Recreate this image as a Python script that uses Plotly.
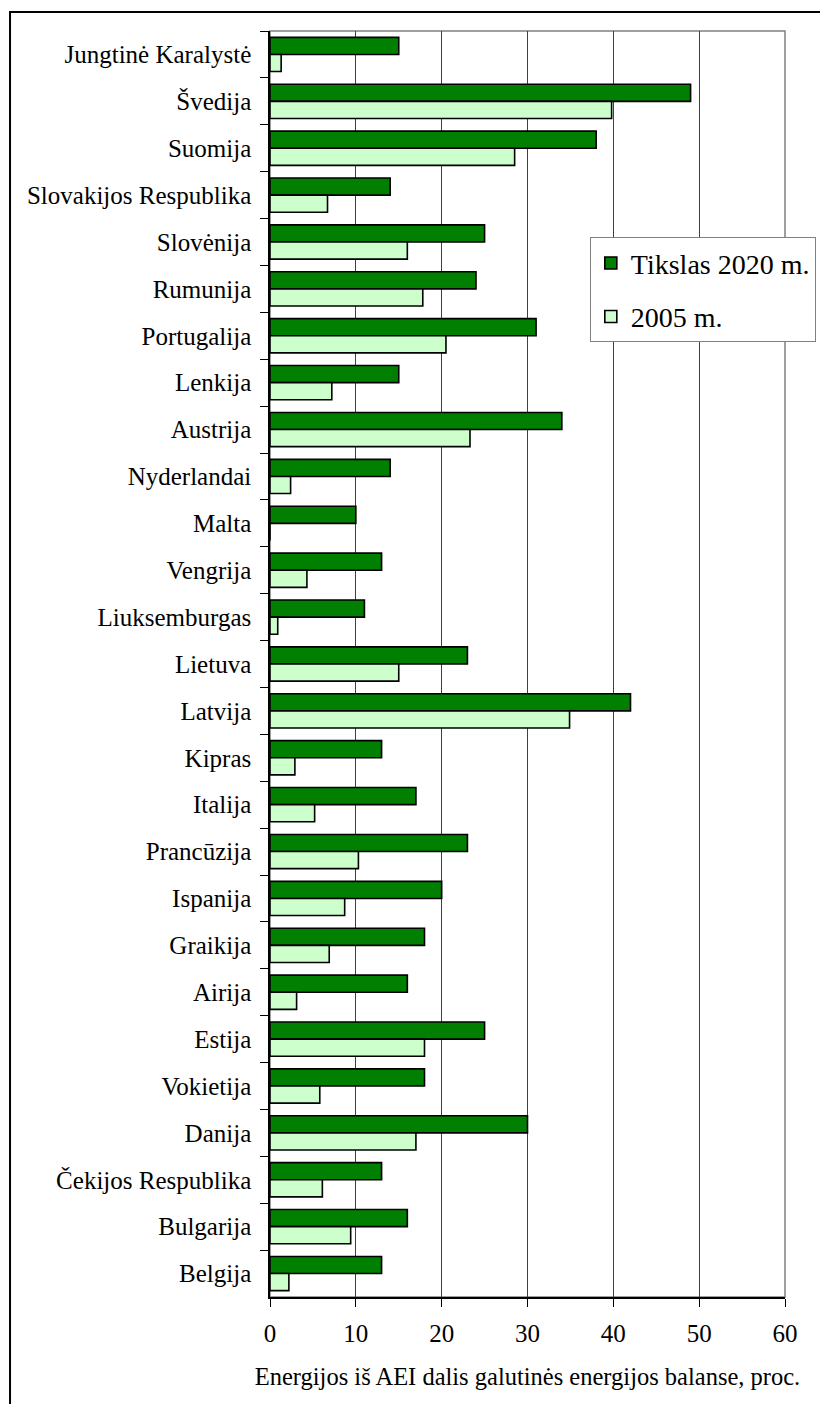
import plotly.graph_objects as go

countries = ["Jungtinė Karalystė", "Švedija", "Suomija", "Slovakijos Respublika", "Slovėnija",
             "Rumunija", "Portugalija", "Lenkija", "Austrija", "Nyderlandai", "Malta", "Vengrija",
             "Liuksemburgas", "Lietuva", "Latvija", "Kipras", "Italija", "Prancūzija", "Ispanija",
             "Graikija", "Airija", "Estija", "Vokietija", "Danija", "Čekijos Respublika",
             "Bulgarija", "Belgija"]
target_2020 = [15, 49, 38, 14, 25, 24, 31, 15, 34, 14, 10, 13, 11, 23, 42, 13, 17, 23, 20,
               18, 16, 25, 18, 30, 13, 16, 13]
share_2005 = [1.3, 39.8, 28.5, 6.7, 16.0, 17.8, 20.5, 7.2, 23.3, 2.4, 0, 4.3, 0.9, 15.0, 34.9,
              2.9, 5.2, 10.3, 8.7, 6.9, 3.1, 18.0, 5.8, 17.0, 6.1, 9.4, 2.2]
x_ticks = [0, 10, 20, 30, 40, 50, 60]

FONT = "Liberation Serif"

fig = go.Figure()
fig.add_trace(go.Bar(y=countries, x=target_2020, orientation="h", name="Tikslas 2020 m.",
                     legendgroup="a",
                     marker=dict(color="#007F00", line=dict(color="black", width=1.6))))
fig.add_trace(go.Bar(y=countries, x=share_2005, orientation="h", name="2005 m.",
                     legendgroup="b",
                     marker=dict(color="#CCFFCC", line=dict(color="black", width=1.6))))

fig.update_layout(
    width=820, height=1396,
    margin=dict(l=262, r=41, t=23, b=107),
    paper_bgcolor="white", plot_bgcolor="white",
    font=dict(family=FONT, color="black"),
    barmode="group", bargap=0.27, bargroupgap=0,
    showlegend=True,
    legend=dict(x=0.621, y=0.837, xanchor="left", yanchor="top",
                bordercolor="#808080", borderwidth=1, bgcolor="white",
                font=dict(family=FONT, size=28, color="black"),
                traceorder="grouped", tracegroupgap=14,
                itemwidth=30),
    xaxis=dict(range=[0, 60], tickvals=x_ticks, ticks="outside", ticklen=8, tickcolor="black",
               tickwidth=1, showline=True, linecolor="black", linewidth=1.5,
               showgrid=True, gridcolor="#404040", gridwidth=1, zeroline=False,
               tickfont=dict(family=FONT, size=25), ticklabelstandoff=5,
               title=dict(text="Energijos iš AEI dalis galutinės energijos balanse, proc.",
                          font=dict(family=FONT, size=24.5), standoff=22)),
    yaxis=dict(autorange="reversed", type="category", ticks="outside", tickson="boundaries",
               ticklen=8, tickcolor="black", showline=True, linecolor="black", linewidth=1.5,
               showgrid=False, tickfont=dict(family=FONT, size=25), ticklabelstandoff=12),
)

# plot area border (top/right, gray)
fig.add_shape(type="rect", xref="paper", yref="paper", x0=0, x1=1, y0=0, y1=1,
              line=dict(color="#808080", width=1.5), layer="below")
# outer frame
fig.add_shape(type="rect", xref="paper", yref="paper", x0=-0.5048, x1=1.0735, y0=-0.0893,
              y1=1.0150, line=dict(color="black", width=2), layer="below")

fig.write_html("out.html")
